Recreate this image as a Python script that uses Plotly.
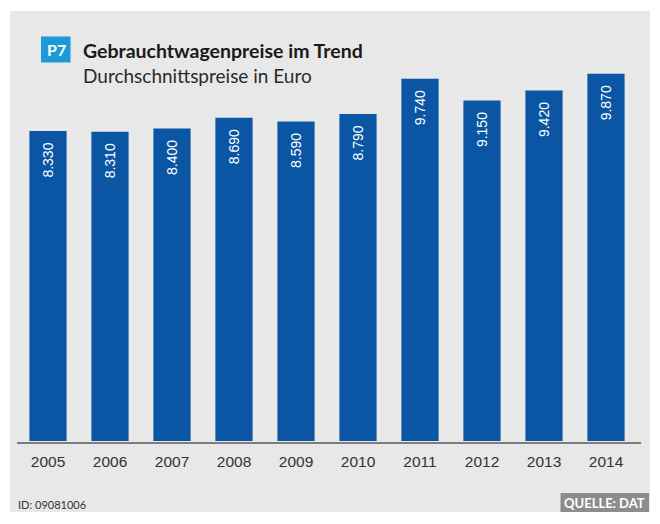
import plotly.graph_objects as go

years = ["2005", "2006", "2007", "2008", "2009", "2010", "2011", "2012", "2013", "2014"]
prices = [8330, 8310, 8400, 8690, 8590, 8790, 9740, 9150, 9420, 9870]

# the page body has an 8px margin, so the figure is drawn 8px in from the top-left
OFF = 8
W, H = 660 - OFF, 524 - OFF
BAR = "#0a56a5"
FONT = "Lato, 'Noto Sans', Arial, sans-serif"
NUMFONT = "Arial, 'Liberation Sans', sans-serif"

def px(x):
    return (x - OFF) / W

def py(y):
    return 1 - (y - OFF) / H

zero_y, top_y = 441, 60
scale = 0.03720  # pixels per euro
fig = go.Figure(go.Bar(
    x=years, y=prices,
    marker=dict(color=BAR, line=dict(width=0)),
    width=0.6,
    hoverinfo="skip",
))

annotations = []
for i, v in enumerate(prices):
    annotations.append(dict(
        x=i, y=v, xref="x", yref="y", text=f"{v:,}".replace(",", "."),
        textangle=-90, showarrow=False, xanchor="center", yanchor="top", yshift=-10,
        font=dict(color="white", size=14, family=NUMFONT),
    ))

annotations += [
    dict(text="<b>P7</b>", x=px(56), y=py(49.5), xref="paper", yref="paper", showarrow=False,
         font=dict(size=16, color="white", family=FONT), xanchor="center", yanchor="middle"),
    dict(text="<b>Gebrauchtwagenpreise im Trend</b>", x=px(81), y=py(50), xref="paper", yref="paper",
         showarrow=False, font=dict(size=19.5, color="#1a1a1a", family=FONT), xanchor="left", yanchor="middle"),
    dict(text="Durchschnittspreise in Euro", x=px(81), y=py(75), xref="paper", yref="paper",
         showarrow=False, font=dict(size=19, color="#2a2a2a", family=FONT), xanchor="left", yanchor="middle"),
    dict(text="ID: 09081006", x=px(16), y=py(504.5), xref="paper", yref="paper",
         showarrow=False, font=dict(size=11, color="#333333", family=FONT), xanchor="left", yanchor="middle"),
    dict(text="<b>QUELLE: DAT</b>", x=px(604.5), y=py(502.5), xref="paper", yref="paper",
         showarrow=False, font=dict(size=13, color="white", family=FONT), xanchor="center", yanchor="middle"),
]

fig.update_layout(
    width=W, height=H,
    margin=dict(l=0, r=0, t=0, b=0),
    paper_bgcolor="white",
    plot_bgcolor="rgba(0,0,0,0)",
    showlegend=False,
    xaxis=dict(type="category", domain=[px(17), px(637)], range=[-0.5, 9.5], showgrid=False,
               showline=False, ticks="", tickfont=dict(size=15.5, color="#333333", family=NUMFONT),
               ticklabelstandoff=9),
    yaxis=dict(domain=[py(zero_y), py(top_y)], range=[0, (zero_y - top_y) / scale],
               visible=False, showgrid=False),
    shapes=[
        dict(type="rect", xref="paper", yref="paper", x0=px(10), x1=px(650), y0=py(512), y1=py(11),
             fillcolor="#e8e8e8", line=dict(width=0), layer="below"),
        dict(type="line", xref="paper", yref="paper", x0=px(17), x1=px(641), y0=py(443), y1=py(443),
             line=dict(color="#5a5a5a", width=1.5), layer="above"),
        dict(type="rect", xref="paper", yref="paper", x0=px(41), x1=px(70.5), y0=py(62.5), y1=py(36.5),
             fillcolor="#1b9ad7", line=dict(width=0)),
        dict(type="rect", xref="paper", yref="paper", x0=px(560.5), x1=px(649), y0=py(512), y1=py(493),
             fillcolor="#8c8c8c", line=dict(width=0)),
    ],
    annotations=annotations,
)

fig.write_html("out.html")
